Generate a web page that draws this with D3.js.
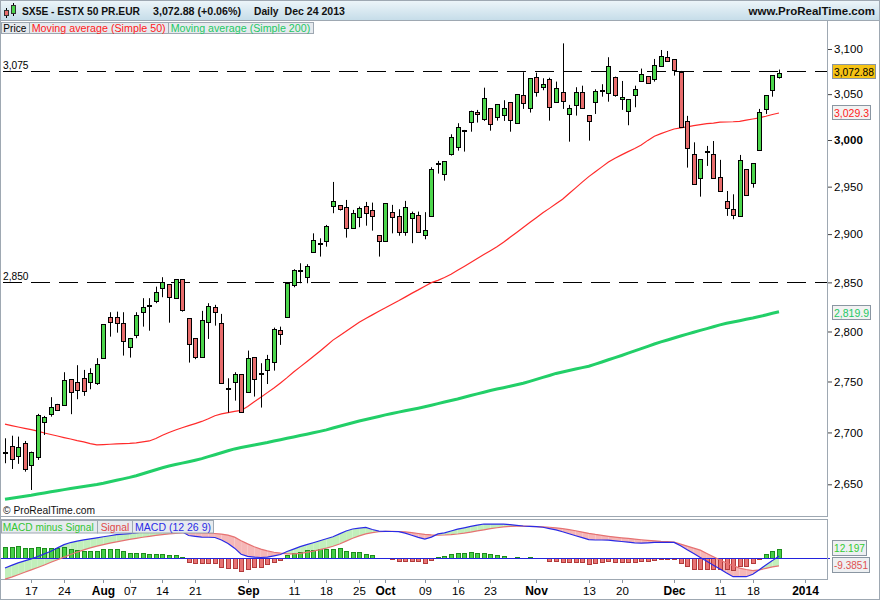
<!DOCTYPE html>
<html><head><meta charset="utf-8">
<script src="https://cdn.jsdelivr.net/npm/d3@7"></script>
<style>body{margin:0;background:#fff}svg{display:block}text{font-family:"Liberation Sans",Arial,sans-serif}</style>
</head><body><svg id="c" width="880" height="600"></svg>
<script>
// ---------- DATA ----------
const dates = [
"2013-07-11","2013-07-12","2013-07-15","2013-07-16","2013-07-17","2013-07-18","2013-07-19","2013-07-22","2013-07-23","2013-07-24","2013-07-25","2013-07-26","2013-07-29","2013-07-30","2013-07-31",
"2013-08-01","2013-08-02","2013-08-05","2013-08-06","2013-08-07","2013-08-08","2013-08-09","2013-08-12","2013-08-13","2013-08-14","2013-08-15","2013-08-16","2013-08-19","2013-08-20","2013-08-21","2013-08-22","2013-08-23","2013-08-26","2013-08-27","2013-08-28","2013-08-29","2013-08-30",
"2013-09-02","2013-09-03","2013-09-04","2013-09-05","2013-09-06","2013-09-09","2013-09-10","2013-09-11","2013-09-12","2013-09-13","2013-09-16","2013-09-17","2013-09-18","2013-09-19","2013-09-20","2013-09-23","2013-09-24","2013-09-25","2013-09-26","2013-09-27","2013-09-30",
"2013-10-01","2013-10-02","2013-10-03","2013-10-04","2013-10-07","2013-10-08","2013-10-09","2013-10-10","2013-10-11","2013-10-14","2013-10-15","2013-10-16","2013-10-17","2013-10-18","2013-10-21","2013-10-22","2013-10-23","2013-10-24","2013-10-25","2013-10-28","2013-10-29","2013-10-30","2013-10-31",
"2013-11-01","2013-11-04","2013-11-05","2013-11-06","2013-11-07","2013-11-08","2013-11-11","2013-11-12","2013-11-13","2013-11-14","2013-11-15","2013-11-18","2013-11-19","2013-11-20","2013-11-21","2013-11-22","2013-11-25","2013-11-26","2013-11-27","2013-11-28","2013-11-29",
"2013-12-02","2013-12-03","2013-12-04","2013-12-05","2013-12-06","2013-12-09","2013-12-10","2013-12-11","2013-12-12","2013-12-13","2013-12-16","2013-12-17","2013-12-18","2013-12-19","2013-12-20","2013-12-23","2013-12-24"];

const open = [2680,2687.2,2677.6,2689.5,2668.3,2676,2709.9,2717.8,2727.6,2726.9,2752.2,2749.5,2753.2,2749.2,2748.2,2773.2,2815.1,2814.4,2808.3,2784.2,2796.2,2820.1,2826.3,2831.3,2844,2848,2833.8,2853.2,2813.4,2793.2,2774.8,2810,2824.6,2808.9,2742.3,2749.8,2757.2,2740,2774.2,2757.8,2761.5,2769.5,2801.2,2815.1,2847.3,2862.1,2855.9,2881.1,2889.7,2892.5,2929.9,2930.3,2928.2,2906.7,2917.7,2929.3,2925.1,2898.8,2892.5,2923,2918.7,2901.9,2916.6,2919.8,2898.8,2918.7,2974.3,2963.6,2984.7,2992.8,3009.8,3020,3030.2,3022.6,3034.6,3024.7,3026.9,3041.1,3018.9,3048.7,3034.6,3068.6,3057.6,3066.4,3041.1,3052,3028,3037.8,3052,3026.9,3041.1,3053.5,3051.3,3069.3,3044.4,3031.3,3048.7,3064.9,3069.8,3066.4,3080.8,3090.8,3088.6,3074.2,3020.4,2984.7,2959.6,2987.5,2985,2960,2934.9,2926.4,2919.4,2968.6,2953.6,2989,3033.5,3054.2,3068.6];
const high = [2694.3,2696.8,2695.9,2691.7,2681.4,2718.1,2716.1,2734.5,2727.9,2759.2,2752.2,2766.2,2761.5,2763.2,2773.2,2807.3,2819.5,2820.1,2819.5,2793.5,2819.5,2833.8,2833.8,2845.6,2855.3,2848,2853.2,2853.2,2813.4,2793.2,2820.9,2828.7,2827,2817.8,2753.2,2759.2,2757.2,2780.8,2774.2,2768.2,2776.5,2803.9,2804.9,2849.7,2863.5,2869.7,2868.7,2900.8,2895.6,2909.6,2955,2930.3,2935.9,2925.4,2928.9,2933.8,2933.1,2898.8,2932.5,2930.7,2926.1,2934.9,2923.6,2923.6,2923,2970.7,2977.5,2977.2,3006.2,3018.2,3010.9,3031.9,3032.7,3057.1,3034.6,3038.9,3043.3,3041.1,3049.8,3074.2,3067.5,3073.7,3067.5,3068.1,3063.8,3106.3,3038.2,3057.6,3059.3,3026.9,3055.3,3060.9,3090.8,3069.3,3064.5,3044.4,3059.3,3078.2,3069.8,3088.9,3098.9,3097.8,3088.6,3075.6,3026.2,2997.5,2979.3,2993.6,2998.9,2978.6,2945.4,2941.9,2983.9,2968.6,2975,3033.8,3048.7,3070.9,3077.1];
const low = [2670.2,2664.7,2669.6,2662.1,2644.6,2673.4,2697.5,2715.4,2721,2726.6,2717.8,2732.5,2735.8,2742.3,2746.6,2772.8,2794.8,2798.8,2775.8,2773.8,2793.2,2804.9,2800.8,2828.7,2834.8,2808.9,2833.8,2820.1,2768.8,2772.2,2774.8,2792.5,2805.9,2748.2,2719.4,2731.1,2720.3,2740,2735.1,2724.3,2747.5,2760.8,2786.5,2815.1,2845,2849.1,2849.1,2881.1,2876.6,2886.9,2921.9,2924.7,2896.3,2906.1,2907.2,2908.8,2903.6,2876.6,2892.5,2900.8,2898.3,2898.3,2890.5,2901.5,2894.6,2918.7,2963.9,2956.4,2983.2,2988.5,2987.5,3009,3018.9,3020.7,3010.1,3021,3020.7,3009,3018.9,3033.8,3029.8,3047.2,3054.3,3021,3041.1,3033.8,2998.2,3026.5,3034.6,2999.3,3028.3,3047.2,3041.7,3047.2,3032.7,3016,3035.6,3063.8,3062,3063.8,3080.8,3086.4,3070.4,3013.8,2970.3,2952.5,2939.4,2972.1,2959,2945.7,2919.1,2915.6,2919.4,2940.9,2948.9,2989,3028.3,3047.2,3067.1];
const close = [2680,2674.1,2685.7,2664.4,2680.8,2717.1,2714.8,2725,2722,2751.5,2739.4,2741.7,2740.4,2758.2,2767.2,2807.3,2810,2808.3,2790.5,2793.2,2816.8,2824.6,2826.3,2840.5,2850.7,2834.8,2853.2,2821.9,2787.2,2774.2,2811.4,2825.9,2820.1,2748.2,2742.3,2757.2,2720.3,2773.2,2752.2,2757.8,2772.8,2802.5,2797.5,2849.7,2862.8,2862.1,2866.6,2893.6,2889.7,2908.2,2935.2,2926.1,2906.1,2921.9,2927.2,2921.9,2918.7,2892.5,2932.5,2917.7,2901.9,2928.2,2921.9,2902.5,2904,2968.6,2974.3,2977.2,3003.6,3014.5,3009.8,3031.9,3028,3045.5,3017.1,3038.9,3034.6,3021.5,3049.8,3040,3067.5,3052,3060.9,3035.6,3056.5,3042.5,3034.6,3052,3034.6,3020.4,3053.1,3053.5,3080.8,3048.7,3046.9,3044.4,3055.3,3072,3062,3081.9,3091.9,3086.4,3076.7,3013.8,2991.1,2952.5,2979.3,2987.5,2959.6,2945.7,2927.2,2920.4,2978.2,2940.9,2975,3030.2,3048.7,3070.9,3072.88];

const ma50 = [2708,2706.6,2705.3,2704,2702.8,2701.2,2699.4,2698,2696.5,2695,2693.6,2692.1,2690.8,2689.2,2687.9,2688.2,2688.5,2688.8,2689.1,2689.4,2689.9,2690.8,2691.7,2694.1,2697.2,2699.9,2702.4,2704.6,2706.6,2708.6,2710.7,2713.4,2716.3,2718.1,2719.4,2720.5,2721.5,2725.4,2729.9,2734.5,2739,2743.6,2748.6,2753.8,2759.4,2764.5,2769.6,2774.8,2780.2,2785.7,2791.3,2795.7,2800.2,2804.8,2809.4,2813.2,2816.8,2820.5,2824,2827.7,2831.2,2834.9,2838.7,2842.3,2846.1,2849.7,2852,2855,2858.3,2862.4,2866.4,2870.5,2874.6,2878.7,2882.7,2886.8,2891.4,2896.6,2901.7,2906.8,2912.1,2917.2,2922.3,2927,2931.8,2936.7,2942.8,2948.7,2954.8,2960.7,2965.9,2971.1,2976.3,2980.4,2984,2987.5,2990.8,2994.5,2999.6,3004.1,3006.9,3009.5,3011.9,3013.1,3014.3,3015.5,3016.7,3017.7,3018.4,3019.3,3019.5,3019.8,3020.3,3021.5,3022.8,3024.1,3025.8,3027.7,3029.3];
const ma200 = [2635.8,2636.8,2637.7,2638.7,2639.6,2640.7,2641.7,2642.8,2643.8,2644.9,2645.9,2646.9,2647.9,2648.8,2649.8,2651,2652.4,2653.8,2655.2,2656.6,2658.2,2660.1,2662,2663.9,2665.8,2667.5,2668.9,2670.3,2671.7,2673.1,2674.6,2676.5,2678.4,2680.3,2682.2,2684,2685.3,2686.5,2687.7,2689,2690.2,2691.6,2692.9,2694.3,2695.6,2697,2698.3,2699.6,2701,2702.5,2704.3,2706,2707.7,2709.4,2711.1,2712.6,2714.1,2715.6,2717.1,2718.5,2719.8,2721.1,2722.4,2723.7,2725.1,2726.6,2728.2,2729.7,2731.2,2732.7,2734.4,2736.1,2737.8,2739.4,2741.1,2742.5,2743.9,2745.3,2746.8,2748.2,2750.1,2752.1,2754.1,2756,2758,2759.5,2760.9,2762.4,2763.8,2765.2,2767.3,2769.4,2771.6,2773.7,2775.9,2778.2,2780.5,2782.8,2785.1,2787.4,2789.5,2791.4,2793.4,2795.4,2797.3,2799.2,2801.1,2802.9,2804.8,2806.7,2808.3,2809.6,2810.9,2812.3,2813.6,2815.1,2816.7,2818.4,2819.9];

const macd = [-12.1,-8.8,-5.7,-3.2,-0.7,2.3,5.5,8.8,13,17.1,19.7,21.4,23,24.3,25.6,26.9,28.2,29.5,30.2,30.9,31.7,32.9,33.9,34.3,34.6,34.5,33.8,33.1,28.5,27.5,26.5,26.3,26,22.9,18.5,12.7,5,2.5,1.5,1,1.5,3.1,4.7,8.5,11.5,14.6,17,19.5,21.9,24.4,27,30.5,34.1,36.6,37.6,38.6,36,33.9,33.7,33.5,33.3,31.5,28.8,26.2,24.1,26.5,30.5,31.7,34.1,36.5,38.1,39.8,41.4,42.9,42.8,42.7,42.6,42,41.2,40.4,40,39.7,38.8,37.2,35.6,33.2,30.7,28.2,25.8,23.3,22.9,22.9,22.7,21.8,21,20.2,19.4,18.85,19.3,19.8,20,20,19.8,15.6,10.8,6,1.1,-3.8,-8.6,-13.5,-18.3,-23,-23,-23,-19.9,-14.4,-8.3,-2.9,2.81];
const signal = [-26,-23.5,-20.5,-17.5,-14.5,-11.5,-8.3,-5,-1.8,1.5,4.7,7.8,10.6,13,15.2,17.1,18.9,20.6,22.2,23.6,25,26.3,27.5,28.6,29.6,30.5,31.2,31.8,32,32,31.8,31.4,31,30.3,29,26.5,22,18,14.5,11.5,9.2,7.6,6.4,5.6,5.5,6.2,7.5,9,10.8,12.8,15,17.8,21.5,25,28,30.5,32.2,33.2,33.6,33.7,33.5,33,32,31,30,29.2,28.8,29.1,29.6,30.4,31.5,32.8,34.2,35.6,37,38.2,39.2,39.9,40.2,40.1,39.9,39.6,39.3,38.8,38,37,35.8,34.4,32.8,31.2,29.8,28.6,27.5,26.5,25.6,24.8,24,23.2,22.5,21.9,21.2,20.8,20.2,17.8,15.3,12.8,10.2,6,2,-2.1,-5.9,-9.2,-12.3,-14,-15.3,-14.5,-12.5,-10.8,-9.3851];
const hist = [14.2,14.2,15.4,12.5,12.9,13.75,12.9,13.3,12.5,13.75,12.1,10.4,9.6,9.2,9.2,11.25,11.25,11.25,9.2,6.7,6.7,6.7,5.4,5.4,5.4,4.2,4.2,1.7,-4.2,-6.25,-6.25,-6.25,-5.4,-10.4,-12.5,-12.5,-15.4,-13.75,-11.25,-10.4,-7.1,-4.2,-2.1,4.2,7.1,8.3,10.4,10.4,11.25,11.25,11.25,12.5,9.6,8.3,7.5,5.4,3.75,0.5,0.3,-0.3,-2.9,-2.9,-2.9,-3.3,-5.4,-2.1,2.1,2.9,5,6.25,6.25,7.5,6.25,6.25,5.4,3.75,2.5,0.3,1.25,0.3,1.25,0.3,0.3,-2.9,-2.9,-4.2,-5,-5,-5,-7.1,-5.4,-5,-2.9,-4.2,-4.2,-4.2,-4.2,-3.3,-3.3,-2.1,-0.3,-0.3,-0.3,-5.4,-9.2,-13.75,-13.75,-13.75,-13.75,-13.75,-13.75,-14.6,-9.2,-9.2,-6.25,-0.4,5,9.6,12.197];

const priceTicks = [2650,2700,2750,2800,2850,2900,2950,3000,3050,3100];
const boldPriceTick = 3000;
const levels = [3075, 2850];
const timeTicks = [
 {date:"2013-07-17",label:"17"},{date:"2013-07-24",label:"24"},{date:"2013-08-01",label:"Aug",bold:true},
 {date:"2013-08-07",label:"07"},{date:"2013-08-14",label:"14"},{date:"2013-08-21",label:"21"},
 {date:"2013-09-02",label:"Sep",bold:true},{date:"2013-09-11",label:"11"},{date:"2013-09-18",label:"18"},
 {date:"2013-09-25",label:"25"},{date:"2013-10-01",label:"Oct",bold:true},{date:"2013-10-09",label:"09"},
 {date:"2013-10-16",label:"16"},{date:"2013-10-23",label:"23"},{date:"2013-11-01",label:"Nov",bold:true},
 {date:"2013-11-13",label:"13"},{date:"2013-11-20",label:"20"},{date:"2013-12-02",label:"Dec",bold:true},
 {date:"2013-12-11",label:"11"},{date:"2013-12-18",label:"18"},{date:"2014-01-02",label:"2014",bold:true,slot:122}];

// ---------- LAYOUT ----------
const svg = d3.select("#c");
const W = 880, H = 600;
const P = {l:0.5, r:827.5, top:20.5, bot:516.5};
const M = {top:519.5, bot:580.5};
const border = "#9ea8b2";

const n = dates.length;
const xs = d3.scaleLinear().domain([0, n-1]).range([5, 779]);
const ys = d3.scaleLog().domain([2650, 3100]).range([484.3, 49]);
const ym = d3.scaleLinear().domain([-27, 49]).range([579.9, 519.1]);

const defs = svg.append("defs");
const g1 = defs.append("linearGradient").attr("id","hdr").attr("x1",0).attr("y1",0).attr("x2",0).attr("y2",1);
g1.append("stop").attr("offset","0").attr("stop-color","#eef6fa");
g1.append("stop").attr("offset","1").attr("stop-color","#c6dde9");
defs.append("clipPath").attr("id","clipMain").append("rect").attr("x",1).attr("y",21).attr("width",826).attr("height",495);
defs.append("clipPath").attr("id","clipMacd").append("rect").attr("x",1).attr("y",520).attr("width",826).attr("height",60);

svg.append("rect").attr("width",W).attr("height",H).attr("fill","#fff");

// header
svg.append("rect").attr("x",0).attr("y",0).attr("width",W).attr("height",20).attr("fill","url(#hdr)");
svg.append("line").attr("x1",0).attr("x2",W).attr("y1",20.5).attr("y2",20.5).attr("stroke",border);
const ic = svg.append("g");
ic.append("line").attr("x1",6.5).attr("x2",6.5).attr("y1",8).attr("y2",18).attr("stroke","#000");
ic.append("rect").attr("x",4.5).attr("y",10.5).attr("width",4).attr("height",5).attr("fill","#e86c6c").attr("stroke","#333");
ic.append("line").attr("x1",13.5).attr("x2",13.5).attr("y1",3).attr("y2",16).attr("stroke","#000");
ic.append("rect").attr("x",11.5).attr("y",5.5).attr("width",4).attr("height",8).attr("fill","#4cd64c").attr("stroke","#333");

const hdrText = [["SX5E - ESTX 50 PR.EUR",22,118],["3,072.88 (+0.06%)",153,88],["Daily",254,24.5],["Dec 24 2013",284.5,60.5]];
hdrText.forEach(([t,x,w]) => svg.append("text").attr("x",x).attr("y",15).attr("font-size",11).attr("font-weight","bold")
  .attr("textLength",w).attr("lengthAdjust","spacingAndGlyphs").attr("fill","#111").text(t));
svg.append("text").attr("x",748.5).attr("y",15).attr("font-size",11).attr("font-weight","bold")
  .attr("textLength",126.5).attr("lengthAdjust","spacingAndGlyphs").attr("fill","#111").text("www.ProRealTime.com");

// panel borders
svg.append("rect").attr("x",P.l).attr("y",P.top).attr("width",P.r-P.l).attr("height",P.bot-P.top).attr("fill","none").attr("stroke",border);
svg.append("rect").attr("x",P.l).attr("y",M.top).attr("width",P.r-P.l).attr("height",M.bot-M.top-1).attr("fill","none").attr("stroke",border);
svg.append("rect").attr("x",0.5).attr("y",0.5).attr("width",W-1).attr("height",H-1).attr("fill","none").attr("stroke",border);

// ---------- MAIN PANEL ----------
const main = svg.append("g").attr("clip-path","url(#clipMain)");

levels.forEach(v => {
  main.append("line").attr("x1",1).attr("x2",827).attr("y1",Math.round(ys(v))+0.5).attr("y2",Math.round(ys(v))+0.5)
    .attr("stroke","#000").attr("stroke-width",1).attr("stroke-dasharray","19,9").attr("stroke-dashoffset",-2);
  main.append("text").attr("x",3).attr("y",Math.round(ys(v))-2).attr("font-size",11).attr("fill","#000")
    .attr("textLength",25.5).attr("lengthAdjust","spacingAndGlyphs").text(d3.format(",")(v));
});

const lineGen = arr => d3.line().x((d,i)=>xs(i)).y(d=>ys(d))(arr);
main.append("path").attr("d",lineGen(ma200)).attr("fill","none").attr("stroke","#22cf68").attr("stroke-width",3);
main.append("path").attr("d",lineGen(ma50)).attr("fill","none").attr("stroke","#ff2a2a").attr("stroke-width",1.2);

const cg = main.append("g");
dates.forEach((d,i) => {
  const cx = Math.round(xs(i));
  const o = open[i], c = close[i];
  cg.append("line").attr("x1",cx+0.5).attr("x2",cx+0.5).attr("y1",ys(high[i])).attr("y2",ys(low[i]))
    .attr("stroke","#000").attr("stroke-width",1);
  if (o === c) {
    cg.append("rect").attr("x",cx-2).attr("y",Math.round(ys(o))-1).attr("width",5).attr("height",2).attr("fill","#000");
  } else {
    const top = Math.round(ys(Math.max(o,c))), bot = Math.round(ys(Math.min(o,c)));
    cg.append("rect").attr("x",cx-1.5).attr("y",top+0.5).attr("width",4).attr("height",Math.max(1,bot-top))
      .attr("fill", c > o ? "#4cd64c" : "#e86c6c").attr("stroke","#000").attr("stroke-width",1);
  }
});

// legend (main)
const leg = [["Price","#000",1.5,28,3.3,23],["Moving average (Simple 50)","#ff1a1a",29.5,139,31.7,134],["Moving average (Simple 200)","#1ec864",168.5,145,170.7,139.5]];
leg.forEach(([t,col,bx,bw,tx,tw]) => {
  svg.append("rect").attr("x",bx).attr("y",22.5).attr("width",bw).attr("height",11).attr("fill","#e6eaee").attr("stroke",border);
  svg.append("text").attr("x",tx).attr("y",31.5).attr("font-size",10.5).attr("fill",col)
    .attr("textLength",tw).attr("lengthAdjust","spacingAndGlyphs").text(t);
});
svg.append("text").attr("x",3).attr("y",513.5).attr("font-size",11).attr("fill","#111")
  .attr("textLength",92).attr("lengthAdjust","spacingAndGlyphs").text("© ProRealTime.com");

// price axis
const yAxis = d3.axisRight(ys).tickValues(priceTicks).tickSize(4).tickPadding(2).tickFormat(d3.format(","));
const ya = svg.append("g").attr("transform","translate(828,0)").call(yAxis);
ya.select(".domain").remove();
ya.selectAll("line").attr("stroke","#444");
ya.selectAll("text").attr("font-size",11.5).attr("fill","#000").attr("font-family","Liberation Sans, Arial, sans-serif")
  .attr("font-weight", d => d === boldPriceTick ? "bold" : "normal");

// value tags
function tag(y, w, tw, txt, bg, col) {
  svg.append("rect").attr("x",832.5).attr("y",y).attr("width",w).attr("height",14).attr("fill",bg).attr("stroke","#8a96a2");
  svg.append("text").attr("x",834).attr("y",y+11).attr("font-size",11).attr("fill",col)
    .attr("textLength",tw).attr("lengthAdjust","spacingAndGlyphs").text(txt);
}
tag(Math.round(ys(close[n-1]))-8.5, 43, 40, d3.format(",.2f")(close[n-1]), "#f6c314", "#000");
tag(Math.round(ys(ma50[n-1]))-7.5, 38, 35, d3.format(",.1f")(ma50[n-1]), "#f2f2f2", "#ff2020");
tag(Math.round(ys(ma200[n-1]))-6.5, 38, 35, d3.format(",.1f")(ma200[n-1]), "#f2f2f2", "#1ec864");

// ---------- MACD PANEL ----------
const mp = svg.append("g").attr("clip-path","url(#clipMacd)");
const fillCol = v => v >= 0 ? "#c2efbb" : "#f5b7b7";
for (let i = 0; i < n-1; i++) {
  const a0 = macd[i]-signal[i], a1 = macd[i+1]-signal[i+1];
  const x0 = xs(i), x1 = xs(i+1);
  if (a0*a1 >= 0) {
    mp.append("polygon").attr("points",[[x0,ym(macd[i])],[x1,ym(macd[i+1])],[x1,ym(signal[i+1])],[x0,ym(signal[i])]].join(" "))
      .attr("fill",fillCol(a0+a1));
  } else {
    const t = a0/(a0-a1), xc = x0 + t*(x1-x0), yc = ym(macd[i]) + t*(ym(macd[i+1])-ym(macd[i]));
    mp.append("polygon").attr("points",[[x0,ym(macd[i])],[xc,yc],[x0,ym(signal[i])]].join(" ")).attr("fill",fillCol(a0));
    mp.append("polygon").attr("points",[[xc,yc],[x1,ym(macd[i+1])],[x1,ym(signal[i+1])]].join(" ")).attr("fill",fillCol(a1));
  }
}
const z = Math.round(ym(0));
hist.forEach((h,i) => {
  const cx = Math.round(xs(i));
  const yv = Math.round(ym(h));
  const top = Math.min(yv, z), hh = Math.abs(yv - z);
  if (hh < 1) return;
  mp.append("rect").attr("x",cx-1.5).attr("y",top+0.5).attr("width",4).attr("height",hh)
    .attr("fill", h >= 0 ? "#46cf46" : "#e87474").attr("stroke", h >= 0 ? "#1d8c1d" : "#b23b3b").attr("stroke-width",1);
});
mp.append("line").attr("x1",1).attr("x2",827).attr("y1",z+0.5).attr("y2",z+0.5).attr("stroke","#2222dd").attr("stroke-width",1.2);
const mline = arr => d3.line().x((d,i)=>xs(i)).y(d=>ym(d))(arr);
mp.append("path").attr("d",mline(signal)).attr("fill","none").attr("stroke","#e67272").attr("stroke-width",1.2);
mp.append("path").attr("d",mline(macd)).attr("fill","none").attr("stroke","#2a2ae6").attr("stroke-width",1.2);

const mleg = [["MACD minus Signal","#33c633",1.5,96,2.7,91],["Signal","#e04848",97.5,35,100.7,28.6],["MACD (12 26 9)","#2a2ae6",132.5,81,135,76]];
mleg.forEach(([t,col,bx,bw,tx,tw]) => {
  svg.append("rect").attr("x",bx).attr("y",520.5).attr("width",bw).attr("height",12.5).attr("fill","#e6eaee").attr("stroke",border);
  svg.append("text").attr("x",tx).attr("y",530.7).attr("font-size",10).attr("fill",col)
    .attr("textLength",tw).attr("lengthAdjust","spacingAndGlyphs").text(t);
});

// macd tags
svg.append("line").attr("x1",828).attr("x2",868).attr("y1",z+0.5).attr("y2",z+0.5).attr("stroke","#2222dd").attr("stroke-dasharray","2,3");
function mtag(y, w, tw, txt, col) {
  svg.append("rect").attr("x",832.5).attr("y",y).attr("width",w).attr("height",15).attr("fill","#eef0f2").attr("stroke","#8a96a2");
  svg.append("text").attr("x",834).attr("y",y+11.5).attr("font-size",11).attr("fill",col)
    .attr("textLength",tw).attr("lengthAdjust","spacingAndGlyphs").text(txt);
}
mtag(540.5, 34, 31, d3.format(".3f")(hist[n-1]), "#33cc33");
mtag(557.5, 37, 34, String(signal[n-1]), "#e05050");

// time axis
const tickPos = timeTicks.map(t => t.slot !== undefined ? t.slot : dates.indexOf(t.date));
const xa = svg.append("g").attr("transform","translate(0,580)");
timeTicks.forEach((t,k) => {
  const x = Math.round(xs(tickPos[k])) + 0.5;
  xa.append("line").attr("x1",x).attr("x2",x).attr("y1",0).attr("y2",3).attr("stroke","#8a96a2");
  xa.append("text").attr("x",x).attr("y",15).attr("text-anchor","middle")
    .attr("font-size", t.bold ? 12 : 11.5).attr("font-weight", t.bold ? "bold" : "normal").attr("fill","#000").text(t.label);
});
</script></body></html>
